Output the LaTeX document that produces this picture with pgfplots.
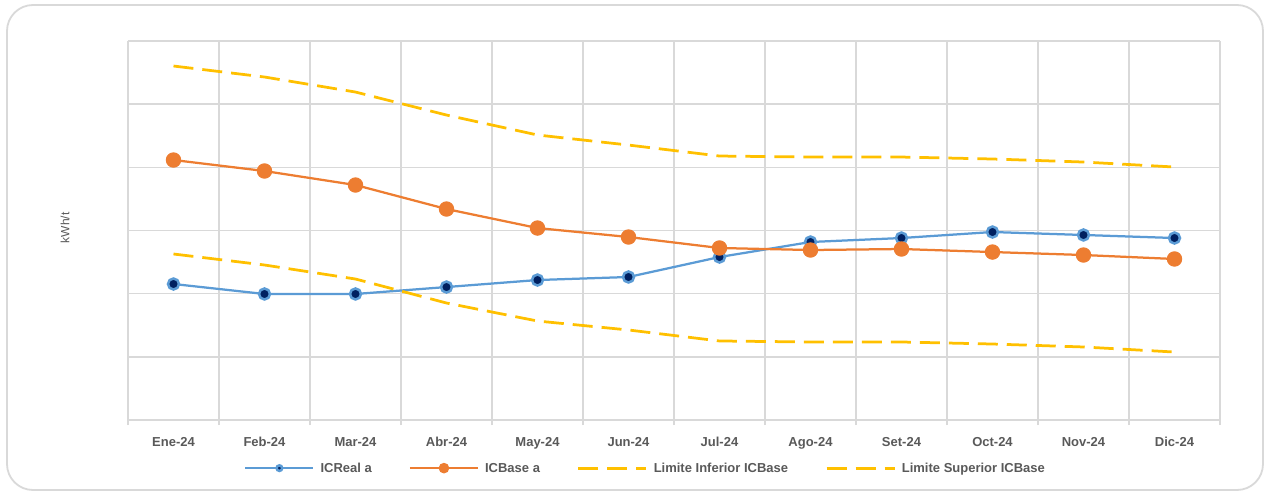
\documentclass[border=0pt]{standalone}
\usepackage{pgfplots}
\pgfplotsset{compat=1.18}
\usepackage{fontspec}
\setmainfont{Liberation Sans}
\definecolor{gridc}{HTML}{D9D9D9}
\definecolor{txt}{HTML}{595959}
\definecolor{cblue}{HTML}{5B9BD5}
\definecolor{cnavy}{HTML}{002060}
\definecolor{corange}{HTML}{ED7D31}
\definecolor{cyel}{HTML}{FFC000}
\begin{document}
\begin{tikzpicture}
\begin{axis}[
  anchor=origin, at={(0pt,0pt)},
  scale only axis, width=1092pt, height=379pt,
  xmin=-0.5, xmax=11.5, ymin=0, ymax=6,
  axis line style={draw=none},
  xtick={0,...,11},
  xticklabels={Ene-24,Feb-24,Mar-24,Abr-24,May-24,Jun-24,Jul-24,Ago-24,Set-24,Oct-24,Nov-24,Dic-24},
  minor xtick={-0.5,0.5,...,11.5},
  xminorgrids, ymajorgrids,
  ytick={0,...,6}, yticklabels={},
  grid style={gridc, line width=1.5pt},
  minor grid style={gridc, line width=1.5pt},
  tick align=outside, tick pos=bottom,
  major tick length=0pt, minor tick length=5pt,
  minor tick style={gridc, line width=1.5pt},
  major tick style={draw=none},
  ytick style={draw=none},
  xticklabel style={font=\fontsize{13}{15}\selectfont\bfseries, text=txt, anchor=base, yshift=-26pt},
  ylabel={kWh/t},
  every axis y label/.style={at={(axis description cs:-0.0577,0.507)}, rotate=90, anchor=center, font=\fontsize{12}{14}\selectfont, text=txt},
  legend columns=4,
  legend style={at={(axis description cs:0.474,-0.127)}, anchor=center, draw=none, fill=none,
    font=\fontsize{13}{15}\selectfont\bfseries, text=txt,
    nodes={text depth=0pt},
    /tikz/every odd column/.append style={column sep=4pt},
    /tikz/every even column/.append style={column sep=35pt}},
  legend image code/.code={\draw[mark repeat=2,mark phase=2,#1] plot coordinates {(0pt,0pt) (34pt,0pt) (68pt,0pt)};},
]
\addplot[cblue, line width=2.25pt, mark=*, mark size=5.5pt, mark options={fill=cnavy, draw=cblue, line width=2.5pt},
  legend image post style={mark size=2.8pt}]
coordinates {(0,2.153) (1,1.995) (2,1.995) (3,2.105) (4,2.216) (5,2.264) (6,2.580) (7,2.818) (8,2.881) (9,2.976) (10,2.929) (11,2.881)};
\addlegendentry{ICReal a}
\addplot[corange, line width=2.25pt, mark=*, mark size=7.2pt, mark options={fill=corange, draw=corange, line width=1pt},
  legend image post style={mark size=4.8pt}]
coordinates {(0,4.116) (1,3.942) (2,3.720) (3,3.340) (4,3.039) (5,2.897) (6,2.723) (7,2.691) (8,2.707) (9,2.659) (10,2.612) (11,2.549)};
\addlegendentry{ICBase a}
\addplot[cyel, line width=2.75pt, dash pattern=on 20pt off 9pt]
coordinates {(0,2.628) (1,2.454) (2,2.232) (3,1.852) (4,1.567) (5,1.425) (6,1.251) (7,1.235) (8,1.235) (9,1.203) (10,1.156) (11,1.076)};
\addlegendentry{Limite Inferior ICBase}
\addplot[cyel, line width=2.75pt, dash pattern=on 20pt off 9pt]
coordinates {(0,5.604) (1,5.430) (2,5.192) (3,4.828) (4,4.512) (5,4.353) (6,4.179) (7,4.163) (8,4.163) (9,4.132) (10,4.084) (11,4.005)};
\addlegendentry{Limite Superior ICBase}
\end{axis}
\path[use as bounding box] (-173.5pt,-73pt) rectangle (1092.5pt,420pt);
\draw[gridc, line width=1.8pt, rounded corners=26pt] (-166.5pt,-70pt) rectangle (1089.5pt,415pt);
\end{tikzpicture}
\end{document}
